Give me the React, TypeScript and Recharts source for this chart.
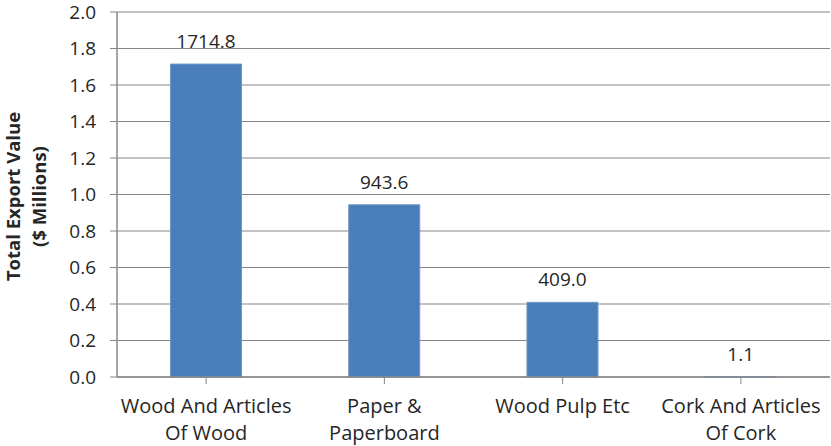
import React from "react";
import { BarChart, Bar, XAxis, YAxis, CartesianGrid, LabelList, Label } from "recharts";

// Export values by product group, in $ millions
const categories = [
  "Wood And Articles\nOf Wood",
  "Paper &\nPaperboard",
  "Wood Pulp Etc",
  "Cork And Articles\nOf Cork",
];
const exportValues = [1714.8, 943.6, 409.0, 1.1];
const yTicks = [0, 200, 400, 600, 800, 1000, 1200, 1400, 1600, 1800, 2000];

const data = categories.map((name, i) => ({ name, value: exportValues[i] }));

const FONT = "'Open Sans', sans-serif";
const TEXT_COLOR = "#262626";
const AXIS_COLOR = "#878787";

const CategoryTick = (props: any) => {
  const { x, y, payload } = props;
  const lines: string[] = String(payload.value).split("\n");
  return (
    <g transform={`translate(${x},${y})`}>
      <text textAnchor="middle" fontFamily={FONT} fontSize={20} fill={TEXT_COLOR}>
        {lines.map((line, i) => (
          <tspan key={i} x={0} y={27 + i * 27}>
            {line}
          </tspan>
        ))}
      </text>
    </g>
  );
};

const AxisTitle = (props: any) => {
  const { viewBox } = props;
  const cy = viewBox.y + viewBox.height / 2 + 2;
  const common = {
    textAnchor: "middle" as const,
    fontFamily: FONT,
    fontSize: 18.5,
    fontWeight: "bold" as const,
    fill: TEXT_COLOR,
  };
  return (
    <g>
      <text transform={`translate(20, ${cy}) rotate(-90)`} {...common}>
        Total Export Value
      </text>
      <text transform={`translate(46, ${cy}) rotate(-90)`} {...common}>
        ($ Millions)
      </text>
    </g>
  );
};

export default function App() {
  return (
    <div style={{ width: 831, height: 446, background: "#fff" }}>
      <style>{"body{margin:0}"}</style>
      <BarChart
        width={831}
        height={446}
        data={data}
        margin={{ top: 12, right: 1, bottom: 0, left: 0 }}
        barCategoryGap="30%"
      >
        <CartesianGrid vertical={false} stroke={AXIS_COLOR} strokeWidth={1} />
        <XAxis
          dataKey="name"
          height={69}
          tick={<CategoryTick />}
          tickLine={{ stroke: AXIS_COLOR }}
          tickSize={7}
          axisLine={{ stroke: AXIS_COLOR, strokeWidth: 1.5 }}
          interval={0}
        />
        <YAxis
          width={117}
          domain={[0, 2000]}
          ticks={yTicks}
          interval={0}
          tickFormatter={(v: number) => (v / 1000).toFixed(1)}
          tick={{ fontFamily: FONT, fontSize: 19, fill: TEXT_COLOR }}
          tickLine={{ stroke: AXIS_COLOR }}
          tickSize={7}
          tickMargin={14}
          axisLine={{ stroke: AXIS_COLOR, strokeWidth: 1.5 }}
        >
          <Label content={<AxisTitle />} />
        </YAxis>
        <Bar dataKey="value" fill="#4A7EBB" stroke="#6E97C8" strokeWidth={1} isAnimationActive={false}>
          <LabelList
            dataKey="value"
            position="top"
            offset={16}
            formatter={(v: number) => v.toFixed(1)}
            style={{ fontFamily: FONT, fontSize: 19, fill: TEXT_COLOR }}
          />
        </Bar>
      </BarChart>
    </div>
  );
}
